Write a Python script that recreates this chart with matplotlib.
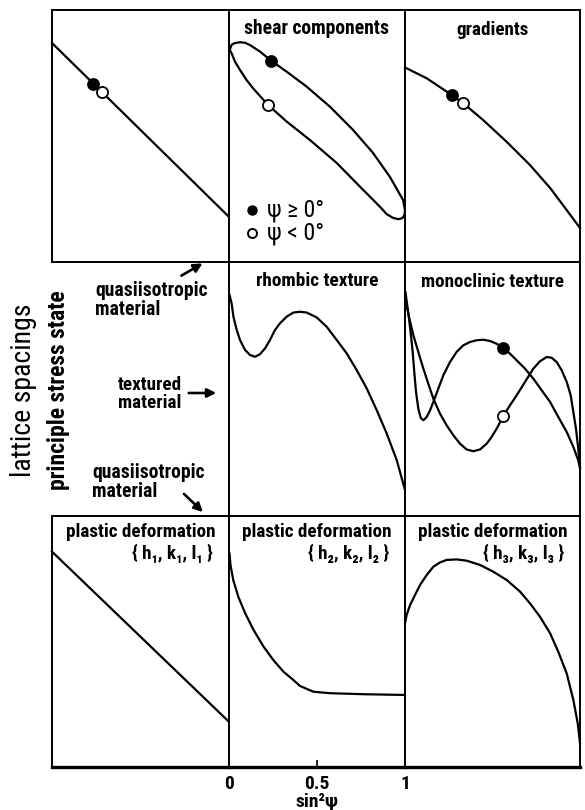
import matplotlib
matplotlib.use('Agg')
import matplotlib.pyplot as plt
from matplotlib.patches import FancyArrowPatch

FAMILY = ['Roboto Condensed', 'Archivo Narrow', 'Liberation Sans Narrow', 'DejaVu Sans']
plt.rcParams['font.family'] = FAMILY

# all curves: x = sin^2(psi) in [0, 1], y = lattice spacing (arbitrary units, 0..1)

# top row, quasiisotropic material
iso_x = [0.0, 1.0]
iso_y = [0.869, 0.179]
iso_dot_pos = [0.233, 0.708]
iso_dot_neg = [0.281, 0.675]

# shear components (closed loop, two branches)
shear_up_x = [0.004, 0.015, 0.034, 0.0625, 0.091, 0.119, 0.176, 0.239, 0.328, 0.441, 0.574, 0.705,
              0.818, 0.915, 0.989, 1.0]
shear_up_y = [0.842, 0.862, 0.869, 0.872, 0.870, 0.861, 0.835, 0.799, 0.755, 0.696, 0.616, 0.524,
              0.433, 0.337, 0.246, 0.205]
shear_lo_x = [0.004, 0.015, 0.034, 0.0625, 0.100, 0.136, 0.222, 0.328, 0.460, 0.612, 0.744, 0.858,
              0.896, 0.932, 0.962, 0.985, 0.997, 1.0]
shear_lo_y = [0.842, 0.828, 0.795, 0.762, 0.722, 0.690, 0.623, 0.557, 0.484, 0.393, 0.299, 0.219,
              0.190, 0.175, 0.170, 0.174, 0.186, 0.205]
shear_dot_pos = [0.239, 0.799]
shear_dot_neg = [0.222, 0.623]

# gradients
grad_x = [0.0, 0.124, 0.267, 0.333, 0.447, 0.581, 0.714, 0.829, 0.924, 1.0]
grad_y = [0.772, 0.729, 0.663, 0.630, 0.563, 0.477, 0.385, 0.294, 0.206, 0.135]
grad_dot_pos = [0.267, 0.663]
grad_dot_neg = [0.333, 0.630]

# rhombic texture
rhomb_x = [0.003, 0.015, 0.025, 0.044, 0.0625, 0.091, 0.119, 0.148, 0.176, 0.205, 0.233, 0.261,
           0.290, 0.328, 0.366, 0.403, 0.441, 0.498, 0.555, 0.612, 0.669, 0.725, 0.782, 0.839,
           0.896, 0.953, 1.0]
rhomb_y = [0.870, 0.837, 0.785, 0.732, 0.693, 0.654, 0.634, 0.627, 0.637, 0.660, 0.693, 0.732,
           0.759, 0.785, 0.801, 0.804, 0.801, 0.782, 0.745, 0.693, 0.640, 0.575, 0.503, 0.417,
           0.325, 0.220, 0.102]

# monoclinic texture, psi >= 0 branch
mono_pos_x = [0.003, 0.013, 0.023, 0.034, 0.044, 0.053, 0.063, 0.076, 0.090, 0.105, 0.124, 0.143,
              0.162, 0.190, 0.219, 0.257, 0.295, 0.333, 0.371, 0.410, 0.448, 0.486, 0.524, 0.562,
              0.600, 0.638, 0.686, 0.733, 0.781, 0.829, 0.876, 0.924, 0.962, 0.990, 1.0]
mono_pos_y = [0.880, 0.829, 0.777, 0.711, 0.646, 0.567, 0.488, 0.423, 0.386, 0.377, 0.390, 0.416,
              0.449, 0.501, 0.554, 0.606, 0.646, 0.672, 0.685, 0.692, 0.694, 0.689, 0.678, 0.661,
              0.639, 0.613, 0.580, 0.541, 0.495, 0.449, 0.390, 0.331, 0.272, 0.219, 0.190]
# monoclinic texture, psi < 0 branch
mono_neg_x = [0.003, 0.025, 0.048, 0.076, 0.105, 0.133, 0.162, 0.200, 0.238, 0.276, 0.314, 0.352,
              0.390, 0.429, 0.467, 0.495, 0.524, 0.562, 0.600, 0.638, 0.686, 0.733, 0.771, 0.810,
              0.838, 0.867, 0.895, 0.924, 0.947, 0.962, 0.977, 0.990, 1.0]
mono_neg_y = [0.850, 0.777, 0.711, 0.646, 0.580, 0.521, 0.462, 0.403, 0.357, 0.318, 0.285, 0.262,
              0.255, 0.262, 0.285, 0.311, 0.344, 0.394, 0.436, 0.475, 0.528, 0.580, 0.609, 0.626,
              0.623, 0.606, 0.574, 0.528, 0.475, 0.409, 0.344, 0.265, 0.190]
mono_dot_pos = [0.562, 0.661]
mono_dot_neg = [0.562, 0.394]

# plastic deformation, three reflections
pd1_x = [0.0, 1.0]
pd1_y = [0.858, 0.180]
pd2_x = [0.003, 0.0085, 0.024, 0.053, 0.091, 0.138, 0.195, 0.252, 0.309, 0.365, 0.403, 0.479,
         0.574, 0.763, 1.0]
pd2_y = [0.850, 0.805, 0.745, 0.678, 0.614, 0.548, 0.481, 0.426, 0.380, 0.347, 0.323, 0.300,
         0.294, 0.290, 0.287]
pd3_x = [0.0, 0.0095, 0.029, 0.057, 0.086, 0.124, 0.162, 0.200, 0.238, 0.295, 0.352, 0.429,
         0.505, 0.581, 0.657, 0.714, 0.771, 0.829, 0.876, 0.924, 0.962, 0.987, 1.0]
pd3_y = [0.572, 0.606, 0.645, 0.685, 0.725, 0.765, 0.798, 0.815, 0.825, 0.827, 0.822, 0.805,
         0.778, 0.745, 0.699, 0.652, 0.599, 0.533, 0.459, 0.373, 0.267, 0.174, 0.095]

x_ticks = [0, 0.5, 1]
x_tick_labels = ['0', '0.5', '1']
hkl_labels = ['{ h₁, k₁, l₁ }', '{ h₂, k₂, l₂ }', '{ h₃, k₃, l₃ }']

W, H = 585, 810
col_px = [52, 229, 405, 580]
row_px = [10, 262, 516, 767]

fig = plt.figure(figsize=(5.85, 8.1), dpi=100)
to_fit = []  # (text, target length in px)


def fpos(x, y):
    return x / W, 1 - y / H


def panel(col, row):
    l, r = col_px[col], col_px[col + 1]
    t, b = row_px[row], row_px[row + 1]
    ax = fig.add_axes([l / W, 1 - b / H, (r - l) / W, (b - t) / H])
    ax.set_xlim(0, 1)
    ax.set_ylim(0, 1)
    ax.set_xticks([])
    ax.set_yticks([])
    for s in ax.spines.values():
        s.set_linewidth(1.4)
    return ax


def curve(ax, x, y):
    ax.plot(x, y, color='k', lw=1.6, clip_on=False, solid_joinstyle='round')


def dots(ax, pos, neg):
    ax.plot(*pos, 'o', ms=8, mfc='k', mec='k', mew=1.2, clip_on=False, zorder=5)
    ax.plot(*neg, 'o', ms=8, mfc='white', mec='k', mew=1.3, clip_on=False, zorder=5)


def title(ax, s, y, target):
    t = ax.text(0.5, y, s, ha='center', va='center', transform=ax.transAxes,
                fontsize=13, fontweight='bold')
    to_fit.append((t, target))


# top row
ax = panel(0, 0)
curve(ax, iso_x, iso_y)
dots(ax, iso_dot_pos, iso_dot_neg)

ax = panel(1, 0)
curve(ax, shear_up_x, shear_up_y)
curve(ax, shear_lo_x, shear_lo_y)
dots(ax, shear_dot_pos, shear_dot_neg)
title(ax, 'shear components', 0.925, 145)
ax.plot(0.128, 0.205, 'o', ms=6.5, mfc='k', mec='k', transform=ax.transAxes)
ax.plot(0.128, 0.115, 'o', ms=6.5, mfc='white', mec='k', mew=1.4, transform=ax.transAxes)
for yy, s in [(0.205, 'ψ ≥ 0°'), (0.115, 'ψ < 0°')]:
    t = ax.text(0.215, yy, s, ha='left', va='center', fontsize=15, fontweight='normal',
                transform=ax.transAxes)
    to_fit.append((t, 57))

ax = panel(2, 0)
curve(ax, grad_x, grad_y)
dots(ax, grad_dot_pos, grad_dot_neg)
title(ax, 'gradients', 0.92, 72)

# middle row
ax = panel(1, 1)
curve(ax, rhomb_x, rhomb_y)
title(ax, 'rhombic texture', 0.925, 122)

ax = panel(2, 1)
curve(ax, mono_pos_x, mono_pos_y)
curve(ax, mono_neg_x, mono_neg_y)
dots(ax, mono_dot_pos, mono_dot_neg)
title(ax, 'monoclinic texture', 0.92, 143)

# bottom row
for i, (cx, cy) in enumerate([(pd1_x, pd1_y), (pd2_x, pd2_y), (pd3_x, pd3_y)]):
    ax = panel(i, 2)
    curve(ax, cx, cy)
    ax.spines['bottom'].set_linewidth(2.4)
    title(ax, 'plastic deformation', 0.935, 150)
    t = ax.text(0.91, 0.85, hkl_labels[i], ha='right', va='center', transform=ax.transAxes,
                fontsize=12, fontweight='bold')
    to_fit.append((t, 82))
    if i == 1:
        ax.set_xticks(x_ticks)
        ax.set_xticklabels(x_tick_labels, fontsize=14, fontweight='bold')
        ax.tick_params(axis='x', direction='in', length=5, width=1.2, pad=6)
        ax.set_xlabel('sin²ψ', fontsize=14, fontweight='bold', labelpad=0)

# left-hand labels
t = fig.text(*fpos(24, 390), 'lattice spacings', rotation=90, ha='center', va='center',
             fontsize=17, fontweight='normal')
to_fit.append((t, 174))
t = fig.text(*fpos(58, 390), 'principle stress state', rotation=90, ha='center', va='center',
             fontsize=14, fontweight='bold')
to_fit.append((t, 200))

for (x, y), s, target in [((95, 300), 'quasiisotropic\nmaterial', 112),
                          ((118, 394), 'textured\nmaterial', 64),
                          ((92, 482), 'quasiisotropic\nmaterial', 112)]:
    t = fig.text(*fpos(x, y), s, ha='left', va='center', linespacing=1.0,
                 fontsize=13, fontweight='bold')
    to_fit.append((t, target))

arrows = [((179, 277), (205, 262)), ((186, 393), (219, 393)), ((182, 492), (205, 514))]
for tail, head in arrows:
    fig.add_artist(FancyArrowPatch(fpos(*tail), fpos(*head), transform=fig.transFigure,
                                   arrowstyle='-|>', mutation_scale=13, lw=1.9, color='k'))

# scale each text so that its length matches the reference, whichever font was found
renderer = fig.canvas.get_renderer()
for _ in range(2):
    for t, target in to_fit:
        bb = t.get_window_extent(renderer)
        t.set_fontsize(t.get_fontsize() * target / max(bb.width, bb.height))

fig.savefig('out.png', dpi=100)
